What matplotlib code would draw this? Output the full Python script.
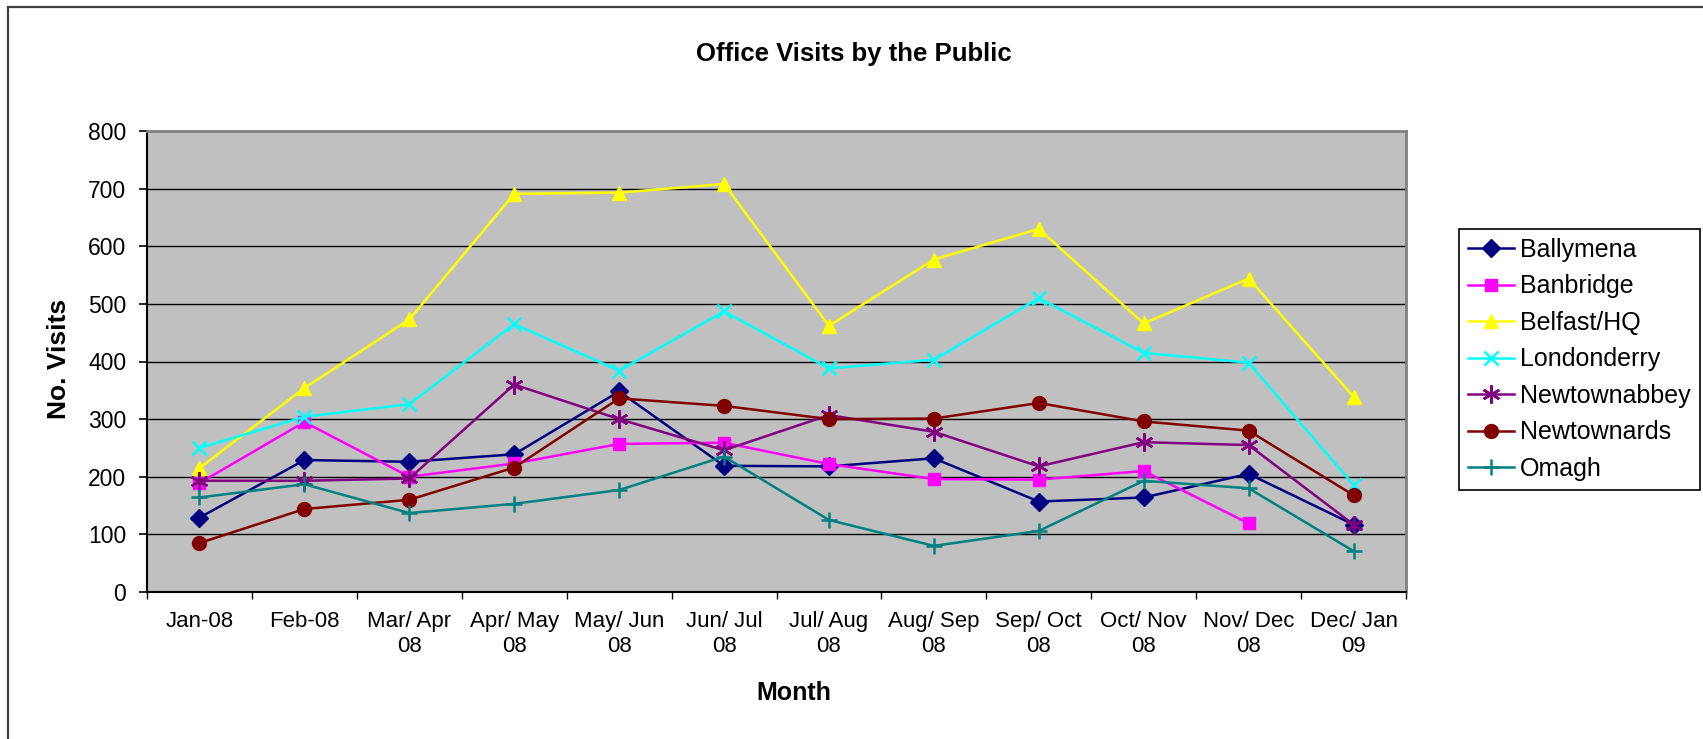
import matplotlib
matplotlib.use("Agg")
import matplotlib.pyplot as plt
import numpy as np
from matplotlib.patches import Rectangle

plt.rcParams['font.family'] = ['Liberation Sans', 'DejaVu Sans']

# Data
months = ["Jan-08", "Feb-08", "Mar/ Apr\n08", "Apr/ May\n08", "May/ Jun\n08", "Jun/ Jul\n08",
          "Jul/ Aug\n08", "Aug/ Sep\n08", "Sep/ Oct\n08", "Oct/ Nov\n08", "Nov/ Dec\n08", "Dec/ Jan\n09"]

ballymena = [129, 229, 226, 239, 348, 219, 218, 232, 157, 164, 205, 117]
banbridge = [189, 295, 200, 223, 257, 259, 222, 196, 195, 210, 119, np.nan]
belfast = [215, 354, 473, 691, 693, 708, 462, 577, 630, 466, 544, 339]
londonderry = [250, 304, 326, 465, 384, 487, 388, 403, 510, 415, 398, 186]
newtownabbey = [193, 193, 197, 360, 300, 246, 307, 278, 218, 260, 255, 117]
newtownards = [85, 144, 160, 216, 336, 323, 300, 301, 328, 296, 280, 168]
omagh = [164, 187, 137, 153, 177, 235, 125, 80, 106, 193, 180, 71]

series = [
    ("Ballymena", ballymena, "#000080", "D", 9.5),
    ("Banbridge", banbridge, "#FF00FF", "s", 9),
    ("Belfast/HQ", belfast, "#FFFF00", "^", 10),
    ("Londonderry", londonderry, "#00FFFF", "x", 10),
    ("Newtownabbey", newtownabbey, "#800080", (6, 2, 0), 13),
    ("Newtownards", newtownards, "#800000", "o", 10),
    ("Omagh", omagh, "#008080", "+", 12),
]

W, H = 1703, 739
fig = plt.figure(figsize=(W / 100, H / 100), dpi=100)
ax = fig.add_axes([147 / W, 1 - 592 / H, (1406 - 147) / W, (592 - 131) / H])
ax.set_facecolor("#C0C0C0")

x = np.arange(len(months))
for name, vals, col, mk, ms in series:
    ax.plot(x, vals, color=col, marker=mk, markersize=ms, linewidth=1.8,
            markeredgewidth=1.8 if mk in ("x", "+", (6, 2, 0)) else 1.0,
            markeredgecolor=col, markerfacecolor=col, label=name, zorder=3)

ax.set_xlim(-0.5, len(months) - 0.5)
ax.set_ylim(0, 800)
ax.set_yticks(np.arange(0, 801, 100))
ax.yaxis.grid(True, color="black", linewidth=1.0)
ax.set_axisbelow(True)
ax.tick_params(axis="y", labelsize=16.5, length=6, width=1.2, pad=9, direction="out")

# ticks on the category boundaries, labels at the centres
ax.set_xticks(np.arange(-0.5, len(months), 1.0))
ax.set_xticklabels([])
ax.tick_params(axis="x", which="major", length=5, width=1.0, direction="out")
ax.set_xticks(x, minor=True)
ax.set_xticklabels(months, minor=True)
ax.tick_params(axis="x", which="minor", length=0, labelsize=16, pad=14)
for t in ax.get_xticklabels(minor=True):
    t.set_linespacing(1.25)

for s in ("top", "right"):
    ax.spines[s].set_color("#808080")
    ax.spines[s].set_linewidth(2)
for s in ("left", "bottom"):
    ax.spines[s].set_color("black")
    ax.spines[s].set_linewidth(1.5)

fig.text(854 / W, 1 - 54 / H, "Office Visits by the Public", fontsize=18.5,
         fontweight="bold", ha="center", va="center")
fig.text(59 / W, 1 - 359 / H, "No. Visits", fontsize=19, fontweight="bold",
         rotation=90, ha="center", va="center")
fig.text(794 / W, 1 - 693 / H, "Month", fontsize=18, fontweight="bold",
         ha="center", va="center")

leg = ax.legend(loc="upper left", bbox_to_anchor=(1459 / W, 1 - 229 / H),
                bbox_transform=fig.transFigure, borderaxespad=0, fontsize=18,
                frameon=True, fancybox=False, framealpha=1, edgecolor="black",
                handlelength=1.85, handletextpad=0.25, labelspacing=0.5,
                borderpad=0.35, numpoints=1)
leg.get_frame().set_linewidth(1.2)

# outer chart frame (only top and left edges fall inside the picture)
fig.add_artist(Rectangle((8 / W, -0.1), 1.2, 1 - 7.5 / H + 0.1, transform=fig.transFigure,
                         facecolor="none", edgecolor="#404040", linewidth=1.6))

fig.savefig("out.png", dpi=100)
